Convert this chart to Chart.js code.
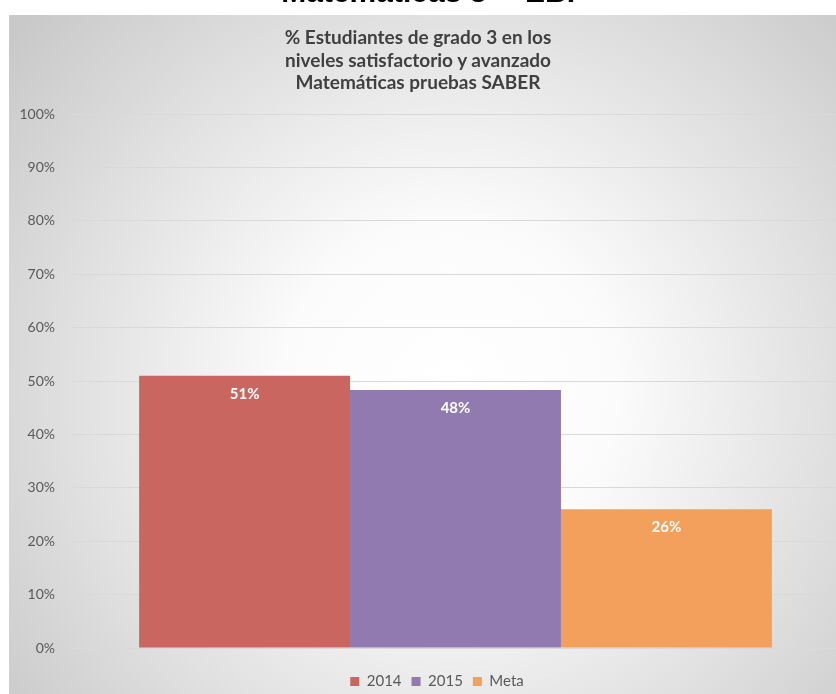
<!DOCTYPE html>
<html>
<head>
<meta charset="utf-8">
<script src="https://cdn.jsdelivr.net/npm/chart.js@4/dist/chart.umd.min.js"></script>
<style>
  html, body { margin:0; padding:0; background:#ffffff; width:836px; height:694px; overflow:hidden; }
  #wrap { position:absolute; left:0; top:0; width:874px; height:694px; }
  #heading { position:absolute; left:16px; width:836px; top:-23px; text-align:center; font-family:"Liberation Sans", Arial, sans-serif; font-weight:bold; font-size:30px; line-height:29px; color:#000; white-space:nowrap; z-index:2; }
  #ctitle { position:absolute; left:168px; width:500px; top:26px; text-align:center; font-family:Lato, "Open Sans", sans-serif; font-weight:bold; font-size:19px; line-height:22.5px; color:#404040; z-index:2; }
</style>
</head>
<body>
<div id="heading">Matemáticas 3° - EBP</div>
<div id="ctitle">% Estudiantes de grado 3 en los<br>niveles satisfactorio y avanzado<br>Matemáticas pruebas SABER</div>
<div id="wrap"><canvas id="c"></canvas></div>
<script>
const categories = ["Matemáticas"];
const seriesNames = ["2014", "2015", "Meta"];
const values2014 = [51];
const values2015 = [48.3];
const valuesMeta = [26];
const yTicks = [0, 10, 20, 30, 40, 50, 60, 70, 80, 90, 100];
const colors = ["#c96660", "#917ab0", "#f2a05c"];

const bgPlugin = {
  id: 'bg',
  beforeDraw(chart) {
    const ctx = chart.ctx;
    ctx.save();
    ctx.fillStyle = '#ffffff';
    ctx.fillRect(0, 0, chart.width, chart.height);
    const g = ctx.createRadialGradient(450, 390, 0, 450, 390, 560);
    g.addColorStop(0, '#ffffff');
    g.addColorStop(0.3, '#fbfbfb');
    g.addColorStop(1, '#c9c9c9');
    ctx.fillStyle = g;
    ctx.fillRect(9, 15, chart.width - 9, chart.height - 15);
    ctx.restore();
  }
};

const legendShift = {
  id: 'legendShift',
  afterLayout(chart) {
    const lg = chart.legend;
    if (!lg) return;
    lg.left += 17.5; lg.right += 17.5;
    lg.top += 5; lg.bottom += 5;
  }
};

const labelPlugin = {
  id: 'barLabels',
  afterDatasetsDraw(chart) {
    const ctx = chart.ctx;
    ctx.save();
    ctx.font = 'bold 15px Lato, "Open Sans", sans-serif';
    ctx.fillStyle = '#ffffff';
    ctx.textAlign = 'center';
    ctx.textBaseline = 'middle';
    chart.data.datasets.forEach((ds, i) => {
      const meta = chart.getDatasetMeta(i);
      meta.data.forEach((bar, j) => {
        ctx.fillText(Math.round(ds.data[j]) + '%', bar.x, bar.y + 18);
      });
    });
    ctx.restore();
  }
};

new Chart(document.getElementById('c'), {
  type: 'bar',
  data: {
    labels: categories,
    datasets: [
      { label: seriesNames[0], data: values2014, backgroundColor: colors[0] },
      { label: seriesNames[1], data: values2015, backgroundColor: colors[1] },
      { label: seriesNames[2], data: valuesMeta, backgroundColor: colors[2] }
    ]
  },
  options: {
    responsive: true,
    maintainAspectRatio: false,
    animation: false,
    layout: { padding: { top: 114, right: 35, left: 0, bottom: 0 } },
    datasets: { bar: { barPercentage: 1.0, categoryPercentage: 0.825, borderWidth: 0 } },
    plugins: {
      title: { display: false },
      tooltip: { enabled: false },
      legend: {
        position: 'bottom',
        labels: {
          boxWidth: 9, boxHeight: 9, padding: 10,
          color: '#595959',
          font: { family: 'Lato, "Open Sans", sans-serif', size: 15 }
        }
      }
    },
    scales: {
      x: {
        display: true,
        ticks: { display: false },
        grid: { display: false },
        border: { display: false },
        afterFit(s) { s.height = 11; }
      },
      y: {
        min: 0, max: 100,
        afterBuildTicks(s) { s.ticks = yTicks.map(v => ({ value: v })); },
        afterFit(s) { s.width = 72; },
        ticks: {
          padding: 17,
          color: '#595959',
          font: { family: 'Lato, "Open Sans", sans-serif', size: 14 },
          callback: v => v + '%'
        },
        grid: { color: '#d9d9d9', lineWidth: 1, drawTicks: false },
        border: { display: false }
      }
    }
  },
  plugins: [bgPlugin, legendShift, labelPlugin]
});
</script>
</body>
</html>
